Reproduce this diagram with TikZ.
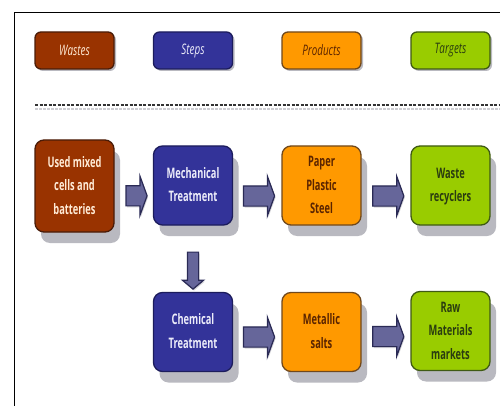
\documentclass[tikz,border=0pt]{standalone}
\usepackage{fontspec}
\usepackage{graphicx}
\setmainfont{Open Sans}
\usetikzlibrary{shapes.arrows,shadows,calc}
\definecolor{wastefill}{HTML}{993300}
\definecolor{wasteline}{HTML}{4A1C08}
\definecolor{stepfill}{HTML}{333399}
\definecolor{stepline}{HTML}{1C1C5C}
\definecolor{prodfill}{HTML}{FF9900}
\definecolor{prodline}{HTML}{70481C}
\definecolor{targfill}{HTML}{99CC00}
\definecolor{targline}{HTML}{3F5A14}
\definecolor{shadowgray}{HTML}{B9B9C0}
\definecolor{arrowfill}{HTML}{66669A}
\definecolor{arrowline}{HTML}{2A2A55}
\definecolor{warmwhite}{HTML}{FFEBD6}
\definecolor{coolwhite}{HTML}{EDEDFA}
\definecolor{prodtext}{HTML}{5A2400}
\definecolor{targtext}{HTML}{2A3C10}
\newcommand\sq[1]{\scalebox{.64}[1]{\begin{tabular}{@{}c@{}}#1\end{tabular}}}
\newcommand\hd[1]{\scalebox{.68}[1]{\itshape #1}}
\tikzset{
  x=1pt,y=-1pt,
  basebox/.style={rectangle,inner sep=0pt,line width=1.3pt,minimum width=79pt,
    font=\fontsize{14.5}{23.5}\selectfont\bfseries},
  headbox/.style={basebox,rounded corners=6pt,minimum height=37pt,
    font=\fontsize{14.5}{16}\selectfont,
    general shadow={shadow xshift=2pt,shadow yshift=-2pt,fill=shadowgray}},
  bigbox/.style={basebox,rounded corners=9pt,minimum height=79pt,
    general shadow={shadow xshift=6pt,shadow yshift=-11pt,fill=shadowgray}},
  waste/.style={draw=wasteline,fill=wastefill,text=warmwhite},
  stp/.style={draw=stepline,fill=stepfill,text=coolwhite},
  prod/.style={draw=prodline,fill=prodfill,text=prodtext},
  targ/.style={draw=targline,fill=targfill,text=targtext},
  blockarrow/.style={single arrow,draw=arrowline,fill=arrowfill,line width=1.2pt,
    inner xsep=0pt,inner ysep=9.5pt,outer sep=0pt,minimum height=31pt,
    minimum width=38pt,single arrow head extend=9.5pt,single arrow tip angle=140,
    general shadow={shadow xshift=1pt,shadow yshift=-1.5pt,fill=shadowgray!60}},
}
\begin{document}
\begin{tikzpicture}
\useasboundingbox (0,0) rectangle (500,406);
\fill[white] (0,0) rectangle (500,406);
\draw[line width=1.2pt,black] (14.5,406) -- (14.5,12.5) -- (500,12.5);
% dashed separator
\draw[shadowgray!70,line width=2pt,dash pattern=on 3pt off 1pt] (35,109) -- (500,109);
\draw[black!80,line width=1.1pt,dash pattern=on 3pt off 1.5pt] (35,105) -- (500,105);
% header
\node[headbox,waste] (hw) at (74.5,50.5) {\hd{Wastes}};
\node[headbox,stp] (hs) at (193,50.5) {\hd{Steps}};
\node[headbox,prod] (hp) at (321.5,50.5) {\hd{Products}};
\node[headbox,targ] (ht) at (450.5,50.5) {\hd{Targets}};
% body
\node[bigbox,waste,minimum height=92pt] (used) at (74.5,186) {\sq{Used mixed\\cells and\\batteries}};
\node[bigbox,stp] (mech) at (193,185.5) {\sq{Mechanical\\Treatment}};
\node[bigbox,prod] (paper) at (321.5,185.5) {\sq{Paper\\Plastic\\Steel}};
\node[bigbox,targ] (recy) at (450.5,185.5) {\sq{Waste\\recyclers}};
\node[bigbox,stp] (chem) at (193,332) {\sq{Chemical\\Treatment}};
\node[bigbox,prod] (salts) at (321.5,332) {\sq{Metallic\\salts}};
\node[bigbox,targ] (raw) at (450.5,331) {\sq{Raw\\Materials\\markets}};
% block arrows
\node[blockarrow,minimum height=21pt] (a1) at ($(used.east)!.5!(mech.west)+(1,10)$) {};
\node[blockarrow] (a2) at ($(mech.east)!.5!(paper.west)+(0,10.5)$) {};
\node[blockarrow] (a3) at ($(paper.east)!.5!(recy.west)+(0.5,10.5)$) {};
\node[blockarrow,rotate=-90,inner ysep=5pt,minimum width=20pt,minimum height=37pt,single arrow head extend=5pt,single arrow tip angle=100] (a4) at ($(mech.south)!.5!(chem.north)+(0,9.5)$) {};
\node[blockarrow] (a5) at ($(chem.east)!.5!(salts.west)+(0,5)$) {};
\node[blockarrow] (a6) at ($(salts.east)!.5!(raw.west)+(0.5,5)$) {};
\end{tikzpicture}
\end{document}
